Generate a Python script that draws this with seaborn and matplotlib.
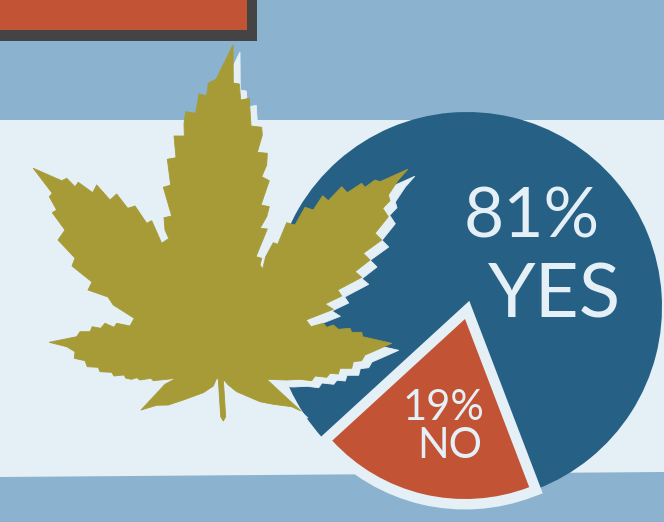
import matplotlib
matplotlib.use("Agg")
import matplotlib.pyplot as plt
import matplotlib.patheffects as pe
from matplotlib.patches import Polygon, Rectangle
import seaborn as sns

# Survey result
answers = ["NO", "YES"]
shares = [19, 81]

# Palette
SKY = "#8bb2ce"
PALE = "#e4eff6"
DEEP = "#276085"
RUST = "#c25334"
CHARCOAL = "#444444"
OLIVE = "#a69b36"

# Outline of the leaf, clockwise from the top point
central_right = [(233, 45), (233.3, 83), (239.3, 84), (240.7, 100), (249.3, 98.3), (251, 126),
                 (261.7, 127.3), (262.3, 135), (257.3, 152.3), (267.3, 153.3), (266.7, 165),
                 (261.7, 176.7), (269.3, 180.7), (261, 205), (269.3, 206.7), (266.7, 216.7),
                 (260, 228.3), (267.3, 229), (256, 256.7), (261.7, 258.3), (260, 265), (262.7, 269)]
upper_right = [(265.7, 256.7), (273.3, 242.7), (277.7, 244.3), (286.7, 222.7), (295, 225),
               (305, 207.3), (313.3, 210), (322.7, 195.7), (328.3, 200.7), (341.7, 186.7),
               (347.3, 192.7), (361.7, 183.3), (365, 187.3), (375, 180), (380, 181.7),
               (407.7, 169.3), (398.3, 180), (388.3, 195), (390, 200.7), (382.7, 208.3),
               (388.3, 216.7), (375, 233.3), (381.7, 240), (363.3, 253.3), (370, 260),
               (355, 271.7), (361.7, 277.3), (337.7, 290), (341.7, 296), (325, 304),
               (333.3, 309.3), (306, 320), (311, 326.7)]
lower_right = [(323.3, 323.3), (326.7, 327.3), (333.3, 325), (338.3, 329.3), (350, 328.3),
               (351.7, 332.3), (361.7, 332.3), (362.7, 336.7), (391.7, 343.3), (375, 350.7),
               (365, 355), (361.7, 360.7), (353.3, 361.7), (351.7, 368.3), (340, 368.3),
               (338.3, 374), (330, 373.3), (326.7, 377.3), (315, 376), (311.7, 380.7),
               (300, 379.3), (286.7, 380), (266.7, 379.3)]
base_and_stem = [(280, 391.7), (301, 411), (291.7, 406.7), (273.3, 404.3), (260, 401.7),
                 (236.7, 391.7), (228.3, 385), (223.3, 379.3), (225.7, 416.7), (223.3, 421),
                 (220.7, 416.7), (218.3, 379.3), (216.7, 378.3), (213.3, 386), (203.3, 392.7),
                 (183.3, 400), (168.3, 405), (156.7, 405.3), (141, 410), (155, 395), (165, 384.3),
                 (176, 378.3)]
lower_left = [(153.3, 380.7), (151, 378.3), (140, 380), (136.7, 377.7), (131.7, 379.3),
              (126, 378.3), (124, 375), (114, 376), (111.7, 372.3), (100, 371.7), (98.3, 367.3),
              (87.3, 366.7), (85, 360.7), (74.3, 358.3), (75, 351.7), (66.7, 346.7), (49.3, 342.3),
              (76.7, 336.7), (80, 331.7), (90, 331.7), (92.3, 326.7), (100.7, 328.3), (105, 323.3),
              (114, 327.3), (116.7, 323.3), (130, 326), (134.3, 318.3)]
upper_left = [(113.3, 305), (108, 297), (88, 290), (92, 282), (72, 266), (75, 258), (58, 240),
              (65, 230), (52.3, 212.7), (56.7, 210), (49.3, 196.7), (52.3, 193.3), (33.3, 168.3),
              (61.7, 180.7), (66.7, 178.3), (75, 186.7), (78.3, 182.3), (92.7, 192.7), (96.7, 185),
              (110, 200), (116.7, 194), (127.7, 208.3), (135, 206), (146.7, 223.3), (151.7, 220.7),
              (161.7, 243.3), (168, 239), (176, 248)]
central_left = [(169.5, 240), (165, 230), (164, 217.7), (171.7, 216), (163.3, 187.3), (170.7, 185),
                (167.3, 159.3), (176, 157.7), (174, 136), (184.3, 136), (184, 123.3), (185.7, 111.7),
                (195.7, 113.3), (199, 94), (206.7, 95.7), (208.3, 83.3), (216, 79.3)]
leaf_outline = (central_right + upper_right + lower_right + base_and_stem
                + lower_left + upper_left + central_left)

sns.set_theme(style="white")
plt.rcParams["font.family"] = ["Lato", "DejaVu Sans"]

fig = plt.figure(figsize=(6.64, 5.22), dpi=100, facecolor=SKY)
ax = fig.add_axes([0, 0, 1, 1])

# Pie: the larger slice sits behind, the smaller one is pulled out with a pale outline
flat = {"linewidth": 0, "edgecolor": "none"}
yes_wedges, _ = ax.pie(shares, radius=195, center=(467, 307), startangle=-222.5,
                       counterclock=False, colors=[RUST, DEEP], wedgeprops=flat)
yes_wedges[0].set_visible(False)
yes_wedges[1].set_zorder(3)

no_wedges, _ = ax.pie(shares, radius=180, center=(465, 319), startangle=-222.5,
                      counterclock=False, colors=[RUST, DEEP], wedgeprops=flat)
no_wedges[1].set_visible(False)
no_wedges[0].set_zorder(4)
no_wedges[0].set_path_effects([pe.withStroke(linewidth=15.1, foreground=PALE, joinstyle="miter")])

ax.set_xlim(0, 664)
ax.set_ylim(522, 0)
ax.set_aspect("auto")
ax.set_axis_off()
sns.despine(ax=ax, left=True, bottom=True)

# Page bands and the header panel
ax.add_patch(Polygon([(0, 120), (664, 120), (664, 472), (0, 477)], closed=True,
                     facecolor=PALE, edgecolor="none", zorder=1))
ax.add_patch(Rectangle((-10, -10), 267, 51, facecolor=CHARCOAL, edgecolor="none", zorder=2))
ax.add_patch(Rectangle((-10, -10), 257, 40, facecolor=RUST, edgecolor="none", zorder=2.1))

# Leaf with a pale offset shadow; round joins soften the serrations
shadow = [(x + 7, y + 7) for x, y in leaf_outline]
ax.add_patch(Polygon(shadow, closed=True, facecolor=PALE, edgecolor=PALE, linewidth=0.6,
                     joinstyle="round", zorder=5))
ax.add_patch(Polygon(leaf_outline, closed=True, facecolor=OLIVE, edgecolor=OLIVE, linewidth=0.6,
                     joinstyle="round", zorder=6))

# Labels
ax.text(532, 238, f"{shares[1]}%", color=PALE, fontsize=50, weight=400,
        ha="center", va="baseline", zorder=7)
ax.text(555, 317, answers[1], color=PALE, fontsize=55, weight=400,
        ha="center", va="baseline", zorder=7)
ax.text(443, 420, f"{shares[0]}%", color=PALE, fontsize=30, weight=400,
        ha="center", va="baseline", zorder=7)
ax.text(450, 458, answers[0], color=PALE, fontsize=30, weight=400,
        ha="center", va="baseline", zorder=7)

fig.savefig("out.png", dpi=100)
